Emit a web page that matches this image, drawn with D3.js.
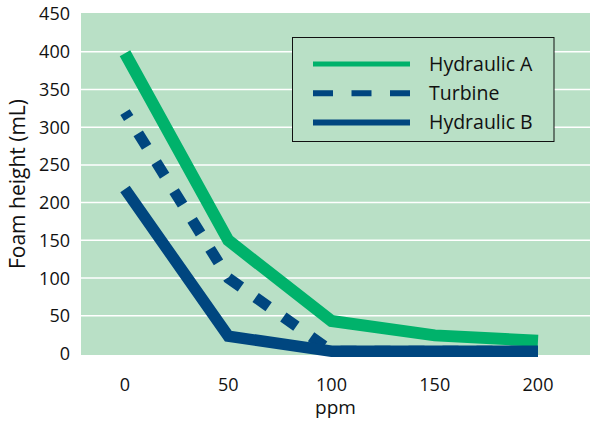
<!DOCTYPE html>
<html>
<head>
<meta charset="utf-8">
<title>Foam height</title>
<script src="https://cdn.jsdelivr.net/npm/d3@7"></script>
<style>
  body { margin: 0; background: #fff; }
  text { font-family: "Open Sans", "Noto Sans", sans-serif; fill: #111; }
</style>
</head>
<body>
<script>
// data
var ppm = [0, 50, 100, 150, 200];
var hydraulicA = [398, 150, 43, 24, 17];
var turbine = [320, 100, 3, 3, 3];
var hydraulicB = [218, 23, 3, 3, 3];
var yTicks = [0, 50, 100, 150, 200, 250, 300, 350, 400, 450];
var seriesNames = ["Hydraulic A", "Turbine", "Hydraulic B"];

var width = 590, height = 423;
var plot = { left: 81, right: 590, top: 13, bottom: 355 };

var green = "#00b26b", navy = "#00467f", bg = "#b9e0c6";

var svg = d3.select("body").append("svg")
    .attr("width", width)
    .attr("height", height);

var x = d3.scaleLinear().domain([0, 200]).range([125, 538]);
var y = d3.scaleLinear().domain([0, 450]).range([353.5, 14]);

// plot background
svg.append("rect")
    .attr("x", plot.left).attr("y", plot.top)
    .attr("width", plot.right - plot.left)
    .attr("height", plot.bottom - plot.top)
    .attr("fill", bg);

// gridlines
svg.append("g").selectAll("line")
    .data(yTicks.filter(function (d) { return d > 0 && d < 450; }))
    .enter().append("line")
    .attr("x1", plot.left).attr("x2", plot.right)
    .attr("y1", function (d) { return y(d); })
    .attr("y2", function (d) { return y(d); })
    .attr("stroke", "#fff")
    .attr("stroke-width", 1.5);

// y tick labels
svg.append("g").selectAll("text")
    .data(yTicks)
    .enter().append("text")
    .attr("x", 70)
    .attr("y", function (d) { return y(d); })
    .attr("dy", "0.36em")
    .attr("text-anchor", "end")
    .style("font-size", "18px")
    .text(function (d) { return d; });

// x tick labels
svg.append("g").selectAll("text")
    .data(ppm)
    .enter().append("text")
    .attr("x", function (d) { return x(d); })
    .attr("y", 391)
    .attr("text-anchor", "middle")
    .style("font-size", "18px")
    .text(function (d) { return d; });

// axis titles
svg.append("text")
    .attr("x", (plot.left + plot.right) / 2)
    .attr("y", 414)
    .attr("text-anchor", "middle")
    .style("font-size", "19px")
    .text("ppm");

svg.append("text")
    .attr("transform", "translate(17," + (plot.top + plot.bottom) / 2 + ") rotate(-90)")
    .attr("dy", "0.36em")
    .attr("text-anchor", "middle")
    .style("font-size", "21px")
    .text("Foam height (mL)");

// lines
function lineFor(values) {
    return d3.line()
        .x(function (d, i) { return x(ppm[i]); })
        .y(function (d) { return y(d); })(values);
}

svg.append("path")
    .attr("d", lineFor(turbine))
    .attr("fill", "none")
    .attr("stroke", navy)
    .attr("stroke-width", 11)
    .attr("stroke-dasharray", "16,18")
    .attr("stroke-dashoffset", 9);

svg.append("path")
    .attr("d", lineFor(hydraulicA))
    .attr("fill", "none")
    .attr("stroke", green)
    .attr("stroke-width", 12)
    .attr("stroke-linejoin", "miter");

svg.append("path")
    .attr("d", lineFor(hydraulicB))
    .attr("fill", "none")
    .attr("stroke", navy)
    .attr("stroke-width", 11.5)
    .attr("stroke-linejoin", "miter");

// legend
var legend = svg.append("g");
legend.append("rect")
    .attr("x", 292.5).attr("y", 37.5)
    .attr("width", 261.5).attr("height", 104)
    .attr("fill", bg)
    .attr("stroke", "#111")
    .attr("stroke-width", 1);

var legendStyle = [
    { color: green, dash: null, w: 5 },
    { color: navy, dash: "20,18.5", w: 6 },
    { color: navy, dash: null, w: 6 }
];

seriesNames.forEach(function (name, i) {
    var ly = 64 + i * 29.3;
    legend.append("line")
        .attr("x1", 313).attr("x2", 410)
        .attr("y1", ly).attr("y2", ly)
        .attr("stroke", legendStyle[i].color)
        .attr("stroke-width", legendStyle[i].w)
        .attr("stroke-dasharray", legendStyle[i].dash);
    legend.append("text")
        .attr("x", 429)
        .attr("y", ly + 6.8)
        .style("font-size", "19.5px")
        .text(name);
});
</script>
</body>
</html>
